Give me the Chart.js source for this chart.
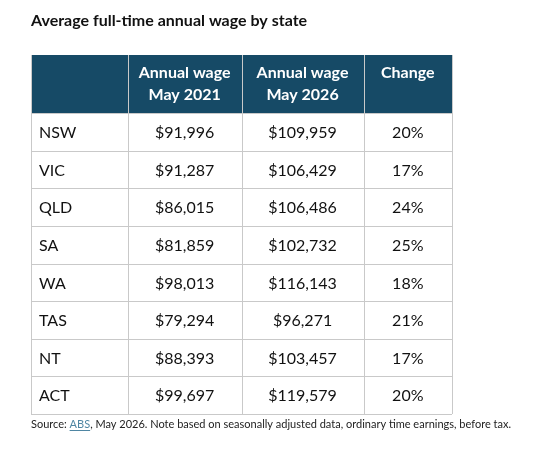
<!DOCTYPE html>
<html>
<head>
<meta charset="utf-8">
<script src="https://cdn.jsdelivr.net/npm/chart.js@4"></script>
<style>
  body { margin: 0; background: #fff; }
  #wrap { width: 544px; height: 457px; }
</style>
</head>
<body>
<div id="wrap"><canvas id="myChart" width="544" height="457"></canvas></div>
<script>
const states = ['NSW', 'VIC', 'QLD', 'SA', 'WA', 'TAS', 'NT', 'ACT'];
const wage2021 = [91996, 91287, 86015, 81859, 98013, 79294, 88393, 99697];
const wage2026 = [109959, 106429, 106486, 102732, 116143, 96271, 103457, 119579];
const change = [20, 17, 24, 25, 18, 21, 17, 20];
const headers = [[''], ['Annual wage', 'May 2021'], ['Annual wage', 'May 2026'], ['Change']];
// column edges in % of table width
const colEdges = [0, 23, 50, 79, 100];
const headerRows = 1.55; // header height in row units

const FONT = 'Lato, "Open Sans", sans-serif';
const fmt = v => '$' + v.toLocaleString('en-US');

const tablePlugin = {
    id: 'table',
    afterDraw: chart => {
        const ctx = chart.ctx;
        const xs = chart.scales.x, ys = chart.scales.y;
        const X = v => xs.getPixelForValue(v);
        const Y = v => ys.getPixelForValue(v);
        const total = headerRows + states.length;
        ctx.save();

        // title
        ctx.fillStyle = '#111';
        ctx.font = `bold 16px ${FONT}`;
        ctx.textAlign = 'left';
        ctx.textBaseline = 'middle';
        ctx.fillText('Average full-time annual wage by state', X(0), 21);

        // header
        ctx.fillStyle = '#164a66';
        ctx.fillRect(X(0), Y(0), X(100) - X(0), Y(headerRows) - Y(0));
        ctx.fillStyle = '#fff';
        ctx.font = `bold 16px ${FONT}`;
        ctx.textAlign = 'center';
        headers.forEach((lines, c) => {
            const cx = (X(colEdges[c]) + X(colEdges[c + 1])) / 2;
            lines.forEach((t, i) => ctx.fillText(t, cx, Y(0) + 18 + i * 22));
        });

        // body
        ctx.font = `16px ${FONT}`;
        ctx.fillStyle = '#111';
        states.forEach((s, r) => {
            const cy = (Y(headerRows + r) + Y(headerRows + r + 1)) / 2 + 1;
            const cells = [s, fmt(wage2021[r]), fmt(wage2026[r]), change[r] + '%'];
            cells.forEach((t, c) => {
                if (c === 0) {
                    ctx.textAlign = 'left';
                    ctx.fillText(t, X(0) + 8, cy);
                } else {
                    ctx.textAlign = 'center';
                    ctx.fillText(t, (X(colEdges[c]) + X(colEdges[c + 1])) / 2, cy);
                }
            });
        });

        // grid lines
        ctx.strokeStyle = '#c9c9c9';
        ctx.lineWidth = 1;
        ctx.beginPath();
        for (let r = 0; r <= states.length; r++) {
            const y = Math.round(Y(headerRows + r)) + 0.5;
            ctx.moveTo(X(0), y); ctx.lineTo(X(100), y);
        }
        colEdges.forEach(e => {
            const x = Math.round(X(e)) + 0.5;
            ctx.moveTo(x, Y(0)); ctx.lineTo(x, Y(total));
        });
        ctx.stroke();

        // source note
        ctx.font = `11px ${FONT}`;
        ctx.textAlign = 'left';
        let x = X(0);
        const sy = Y(total) + 10;
        ctx.fillStyle = '#222';
        ctx.fillText('Source: ', x, sy);
        x += ctx.measureText('Source: ').width;
        ctx.fillStyle = '#4f86a3';
        ctx.fillText('ABS', x, sy);
        const w = ctx.measureText('ABS').width;
        ctx.fillRect(x, sy + 6, w, 1);
        x += w;
        ctx.fillStyle = '#222';
        ctx.fillText(', May 2026. Note based on seasonally adjusted data, ordinary time earnings, before tax.', x, sy);
        ctx.restore();
    }
};

new Chart(document.getElementById('myChart'), {
    type: 'scatter',
    data: { datasets: [{ data: [] }] },
    options: {
        responsive: false,
        animation: false,
        devicePixelRatio: 1,
        layout: { padding: { left: 31, right: 92, top: 55, bottom: 43 } },
        scales: {
            x: { type: 'linear', min: 0, max: 100, display: false },
            y: { type: 'linear', min: 0, max: headerRows + states.length, reverse: true, display: false }
        },
        plugins: { legend: { display: false }, tooltip: { enabled: false } }
    },
    plugins: [tablePlugin]
});
</script>
</body>
</html>
